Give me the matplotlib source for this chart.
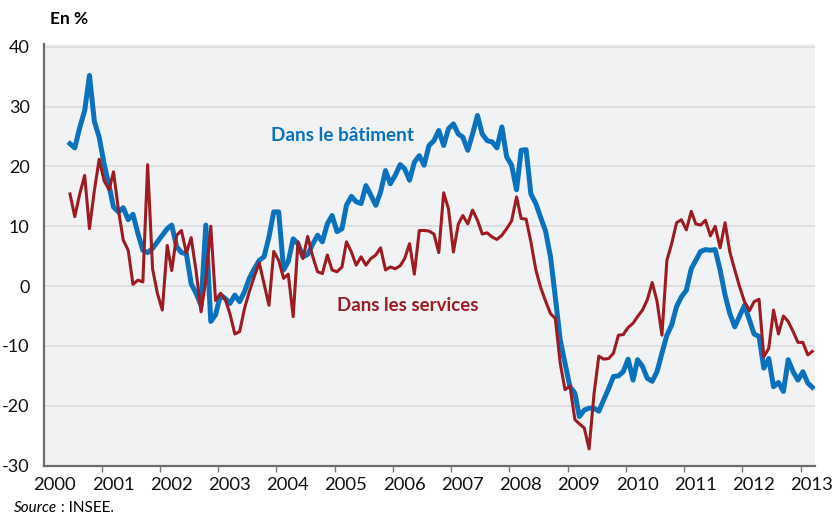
import datetime as dt

import matplotlib.pyplot as plt
import matplotlib.dates as mdates
import pandas as pd

# monthly values, June 2000 -> March 2013 (en %)
batiment = [
    23.8, 23.1, 26.5, 29.3, 35.2, 27.5, 24.9, 20.4, 16.8, 13.2, 12.4, 13.1,
    11.1, 12.0, 8.8, 6.0, 5.6, 6.3, 7.4, 8.5, 9.6, 10.2, 6.6, 5.6,
    5.4, 0.4, -1.2, -3.2, 10.2, -5.9, -4.8, -1.5, -2.1, -2.9, -1.5, -2.6,
    -0.9, 1.3, 2.9, 4.3, 4.9, 8.2, 12.4, 12.4, 2.7, 4.1, 7.9, 7.1,
    4.9, 5.3, 7.0, 8.5, 7.4, 10.4, 11.8, 9.1, 9.6, 13.5, 15.0, 14.1,
    13.8, 16.8, 15.2, 13.5, 15.7, 19.3, 17.1, 18.5, 20.3, 19.6, 17.7, 20.7,
    21.8, 20.2, 23.5, 24.3, 26.0, 23.5, 26.3, 27.1, 25.4, 24.9, 22.7, 25.4,
    28.5, 25.4, 24.3, 24.1, 23.1, 26.6, 21.6, 20.2, 16.1, 22.7, 22.8, 15.4,
    13.8, 11.5, 9.2, 4.9, -1.8, -9.0, -12.9, -16.8, -17.9, -21.8, -20.7, -20.4,
    -20.4, -20.9, -19.0, -17.1, -15.1, -15.0, -14.3, -12.2, -15.7, -12.3, -13.4, -15.4,
    -15.9, -14.3, -11.2, -8.2, -6.5, -3.4, -1.8, -0.7, 2.9, 4.3, 5.8, 6.1,
    6.0, 6.1, 2.7, -1.5, -4.6, -6.8, -5.0, -3.2, -5.7, -8.0, -8.4, -13.7,
    -12.1, -16.8, -16.1, -17.6, -12.3, -14.3, -15.7, -14.3, -16.2, -16.9,
]
services = [
    15.4, 11.6, 15.4, 18.5, 9.6, 16.0, 21.2, 17.6, 16.1, 19.1, 12.7, 7.7,
    6.0, 0.3, 1.0, 0.7, 20.3, 2.9, -1.2, -4.0, 6.8, 2.6, 8.5, 9.3,
    5.5, 8.1, 2.5, -4.3, 1.0, 10.0, -2.4, -1.2, -2.3, -4.6, -8.0, -7.6,
    -3.7, -0.9, 1.6, 3.9, 0.4, -3.2, 5.8, 4.3, 1.3, 2.0, -5.1, 7.4,
    4.6, 8.3, 5.0, 2.4, 2.1, 5.2, 2.7, 2.4, 3.2, 7.4, 5.7, 3.5,
    4.9, 3.5, 4.6, 5.2, 6.4, 2.7, 3.2, 2.9, 3.4, 4.6, 7.1, 2.0,
    9.3, 9.3, 9.2, 8.7, 5.6, 15.6, 12.9, 5.7, 10.4, 11.8, 10.4, 12.7,
    11.0, 8.7, 8.9, 8.2, 7.8, 8.5, 9.6, 10.9, 14.9, 11.3, 11.2, 7.4,
    2.7, -0.2, -2.5, -4.6, -5.4, -12.9, -17.3, -16.7, -22.3, -23.0, -23.7, -27.2,
    -18.0, -11.7, -12.2, -12.1, -11.2, -8.2, -8.1, -6.9, -6.2, -5.1, -4.0, -2.3,
    0.6, -2.5, -8.2, 4.3, 7.1, 10.6, 11.1, 9.4, 12.5, 10.4, 10.2, 11.0,
    8.4, 10.0, 6.4, 10.6, 5.7, 2.7, -0.1, -2.6, -4.1, -2.6, -2.2, -11.8,
    -10.4, -4.0, -8.0, -5.0, -5.9, -7.6, -9.4, -9.4, -11.5, -10.9,
]
years = list(range(2000, 2014))
yticks = [-30, -20, -10, 0, 10, 20, 30, 40]

months = pd.date_range('2000-06-01', periods=len(batiment), freq='MS') + pd.Timedelta(days=14)

plt.rcParams['font.family'] = ['Lato', 'DejaVu Sans']
fig = plt.figure(figsize=(8.34, 5.18), dpi=100)
ax = fig.add_axes([0.0522, 0.101, 0.925, 0.814])
ax.set_facecolor('#f0f2f4')

ax.plot(months, batiment, color='#0a72bd', lw=3.6, solid_joinstyle='round', zorder=3)
ax.plot(months, services, color='#9c1c22', lw=2.2, solid_joinstyle='round', zorder=4)

ax.set_xlim(dt.date(2000, 1, 1), dt.date(2013, 4, 1))
ax.set_ylim(-30, 40.45)

ax.set_yticks(yticks)
ax.set_yticklabels([str(v) for v in yticks], fontsize=13, color='#111111')
ax.tick_params(axis='y', length=0, pad=10)
ax.yaxis.grid(True, color='#d6d8db', lw=1.1)
ax.set_axisbelow(True)

ax.set_xticks([mdates.date2num(dt.date(y, 1, 1)) for y in years[1:]])
ax.set_xticklabels([])
ax.set_xticks([mdates.date2num(dt.date(y, 3, 12)) for y in years], minor=True)
ax.set_xticklabels([str(y) for y in years], minor=True, fontsize=13.3, color='#111111')
ax.tick_params(axis='x', which='major', length=4, width=1, color='#777777', direction='out')
ax.tick_params(axis='x', which='minor', length=0, pad=8)

for s in ['top', 'right']:
    ax.spines[s].set_visible(False)
for s in ['left', 'bottom']:
    ax.spines[s].set_color('#6b6b6b')
    ax.spines[s].set_linewidth(1.6)

ax.text(0.2945, 0.784, 'Dans le bâtiment', transform=ax.transAxes, color='#0a72bd',
        fontsize=13.6, fontweight='bold', ha='left', va='center')
ax.text(0.381, 0.379, 'Dans les services', transform=ax.transAxes, color='#9c1c22',
        fontsize=13.4, fontweight='bold', ha='left', va='center')

fig.text(50 / 834, 1 - 19 / 518, 'En %', fontsize=12.5, fontweight='bold', va='center')
src = fig.text(14 / 834, 1 - 508 / 518, 'Source', fontsize=11, style='italic', va='center')
ax.annotate(' : INSEE.', xy=(1, 0.5), xycoords=src, va='center', ha='left', fontsize=11,
            annotation_clip=False)

fig.savefig('out.png', dpi=100)
